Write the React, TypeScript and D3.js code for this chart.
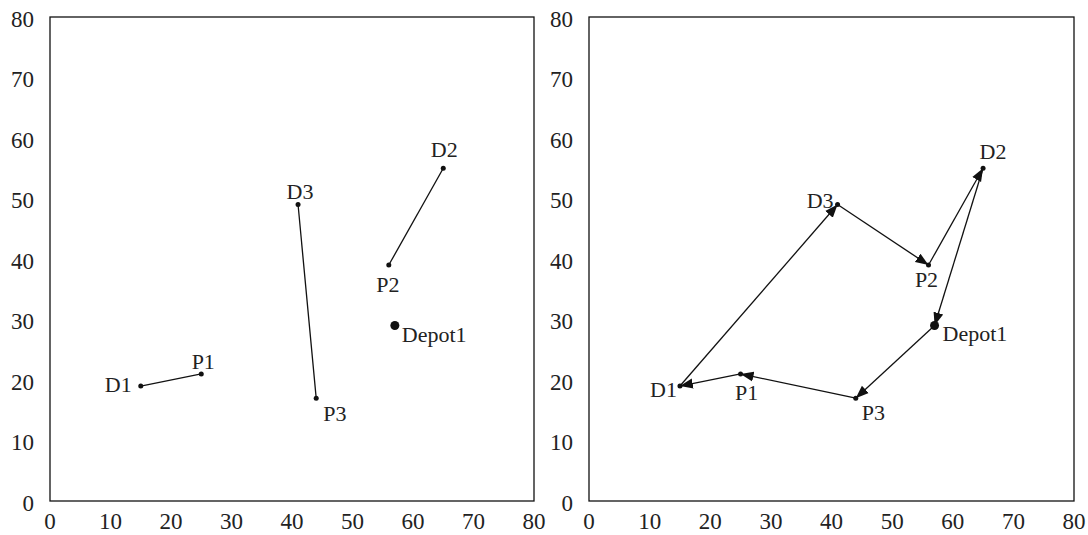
import React from "react";
import { scaleLinear, range } from "d3";

// node names and coordinates
const nodeNames = ["D1", "P1", "P3", "D3", "D2", "P2", "Depot1"];
const nodeX = [15, 25, 44, 41, 65, 56, 57];
const nodeY = [19, 21, 17, 49, 55, 39, 29];

// left panel: pickup/delivery pairs
const pairs = [
  ["D1", "P1"],
  ["D3", "P3"],
  ["P2", "D2"],
];

// right panel: the route
const route = ["Depot1", "P3", "P1", "D1", "D3", "P2", "D2", "Depot1"];

const ticks = range(0, 81, 10);

// label placement per panel (dx, dy, anchor)
const leftLabels = {
  D1: [-9, 6, "end"],
  P1: [2, -5, "middle"],
  P3: [7, 23, "start"],
  D3: [2, -6, "middle"],
  D2: [1, -11, "middle"],
  P2: [-1, 27, "middle"],
  Depot1: [7, 16, "start"],
};
const rightLabels = {
  D1: [-3, 11, "end"],
  P1: [6, 26, "middle"],
  P3: [6, 22, "start"],
  D3: [-4, 3, "end"],
  D2: [10, -9, "middle"],
  P2: [-2, 22, "middle"],
  Depot1: [8, 15, "start"],
};

const font = "Liberation Serif, DejaVu Serif, serif";

function Panel({ x0, x1, mode, labels }) {
  const x = scaleLinear().domain([0, 80]).range([x0, x1]);
  const y = scaleLinear().domain([0, 80]).range([501, 17]);
  const pos = (n) => {
    const i = nodeNames.indexOf(n);
    return [x(nodeX[i]), y(nodeY[i])];
  };
  const segs = mode === "pairs" ? pairs : route.slice(1).map((n, i) => [route[i], n]);
  return (
    <g>
      <rect x={x0} y={17} width={x1 - x0} height={484} fill="none" stroke="#111" strokeWidth={1.3} />
      {ticks.map((t) => (
        <text key={"y" + t} x={x0 - 16} y={y(t) + 9.5} textAnchor="end" fontSize={23} fill="#222" style={{ fontFamily: font }}>
          {t}
        </text>
      ))}
      {ticks.map((t) => (
        <text key={"x" + t} x={x(t)} y={529} textAnchor="middle" fontSize={23} fill="#222" style={{ fontFamily: font }}>
          {t}
        </text>
      ))}
      {segs.map(([a, b], i) => {
        const [ax, ay] = pos(a);
        const [bx, by] = pos(b);
        return (
          <line
            key={i}
            x1={ax}
            y1={ay}
            x2={bx}
            y2={by}
            stroke="#111"
            strokeWidth={1.3}
            markerEnd={mode === "route" ? "url(#arrow)" : undefined}
          />
        );
      })}
      {nodeNames.map((n) => {
        const [px, py] = pos(n);
        const [dx, dy, anchor] = labels[n];
        return (
          <g key={n}>
            <circle cx={px} cy={py} r={n === "Depot1" ? 4.5 : 2.5} fill="#111" />
            <text x={px + dx} y={py + dy} textAnchor={anchor} fontSize={22} fill="#222" style={{ fontFamily: font }}>
              {n}
            </text>
          </g>
        );
      })}
    </g>
  );
}

export default function App() {
  return (
    <svg width={1088} height={535} style={{ position: "absolute", left: 0, top: 0, background: "#fff" }}>
      <defs>
        <marker id="arrow" markerUnits="userSpaceOnUse" markerWidth={16} markerHeight={12} refX={13} refY={0} viewBox="0 -6 16 12" orient="auto">
          <path d="M0,-5L13,0L0,5Z" fill="#111" />
        </marker>
      </defs>
      <Panel x0={50} x1={534} mode="pairs" labels={leftLabels} />
      <Panel x0={589} x1={1074} mode="route" labels={rightLabels} />
    </svg>
  );
}
